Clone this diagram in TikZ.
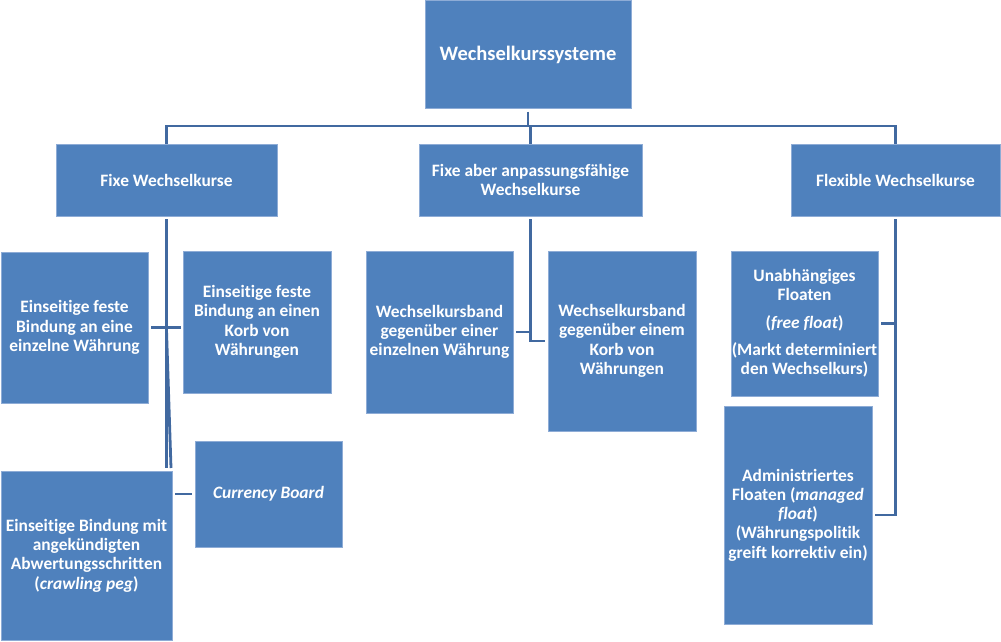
\documentclass[tikz,border=0pt]{standalone}
\usepackage{fontspec}
\setmainfont{Carlito}[Ligatures=NoCommon]
\definecolor{boxblue}{HTML}{4F81BD}
\definecolor{boxedge}{HTML}{8EACD6}
\definecolor{linkblue}{HTML}{4169A0}
\begin{document}
\begin{tikzpicture}[x=1pt,y=-1pt,
  box/.style={draw=boxedge, line width=0.8pt, fill=boxblue, text=white,
    font=\bfseries\fontsize{17.4}{19.3}\selectfont, align=center,
    inner sep=0pt, outer sep=0pt},
  link/.style={draw=linkblue, line width=2.8pt}]
\useasboundingbox (0,0) rectangle (1001,642);

% level 0 and 1
\node[box, minimum width=206pt, minimum height=108pt, font=\bfseries\fontsize{20.5}{24}\selectfont] (root) at (528,54.5) {Wechselkurssysteme};
\node[box, minimum width=221pt, minimum height=72pt] (fixe) at (166.5,180) {Fixe Wechselkurse};
\node[box, minimum width=223pt, minimum height=72pt] (mid) at (530.5,180) {Fixe aber anpassungsfähige\\Wechselkurse};
\node[box, minimum width=209pt, minimum height=72pt] (flex) at (895.5,180) {Flexible Wechselkurse};

% children of fixe
\node[box, minimum width=147pt, minimum height=151pt] (A) at (74.5,327.5) {Einseitige feste\\Bindung an eine\\einzelne Währung};
\node[box, minimum width=148pt, minimum height=142pt] (B) at (257,322) {Einseitige feste\\Bindung an einen\\Korb von\\Währungen};
\node[box, minimum width=147pt, minimum height=106pt] (C) at (268.5,494) {\textit{Currency Board}};
\node[box, minimum width=171pt, minimum height=169pt] (D) at (86.5,555.5) {Einseitige Bindung mit\\angekündigten\\Abwertungsschritten\\(\textit{crawling peg})};

% children of mid
\node[box, minimum width=147pt, minimum height=162pt] (E) at (439.5,332) {Wechselkursband\\gegenüber einer\\einzelnen Währung};
\node[box, minimum width=148pt, minimum height=180pt] (F) at (622,341) {Wechselkursband\\gegenüber einem\\Korb von\\Währungen};

% children of flex
\node[box, minimum width=147pt, minimum height=145pt] (G) at (804.5,323.5) {Unabhängiges\\Floaten\\[8pt](\textit{free float})\\[8pt](Markt determiniert\\den Wechselkurs)};
\node[box, minimum width=148pt, minimum height=218pt] (H) at (798,515) {Administriertes\\Floaten (\textit{managed}\\\textit{float})\\(Währungspolitik\\greift korrektiv ein)};

% connectors level 0 -> 1
\coordinate (bus) at (0,126);
\draw[link] ([yshift=-3pt]root.south) -- (root.south |- bus);
\draw[link] (fixe.north) -- (fixe.north |- bus) -- (flex.north |- bus) -- (flex.north);
\draw[link] (mid.north |- bus) -- (mid.north);

% fixe -> children
\coordinate (fbot) at (166.5,468);
\coordinate (fsplit) at (166.5,330);
\coordinate (fbot2) at (171,468);
\draw[link] ([yshift=-3pt]fixe.south) -- (fbot);
\draw[link] (fsplit) -- (fbot2);
\draw[link] ([xshift=3pt]A.east) -- ([xshift=-2pt]A.east -| B.west);
\draw[link] ([xshift=-20pt]C.west) -- ([xshift=-3pt]C.west);

% mid -> children
\draw[link] ([yshift=-3pt]mid.south) -- (mid.south |- F.west) -- ([xshift=-3pt]F.west);
\draw[link] ([xshift=3pt]E.east) -- (E.east -| mid.south);

% flex -> children
\draw[link] ([yshift=-3pt]flex.south) |- ([xshift=3pt]H.east);
\draw[link] ([xshift=3pt]G.east) -- (G.east -| flex.south);
\end{tikzpicture}
\end{document}
